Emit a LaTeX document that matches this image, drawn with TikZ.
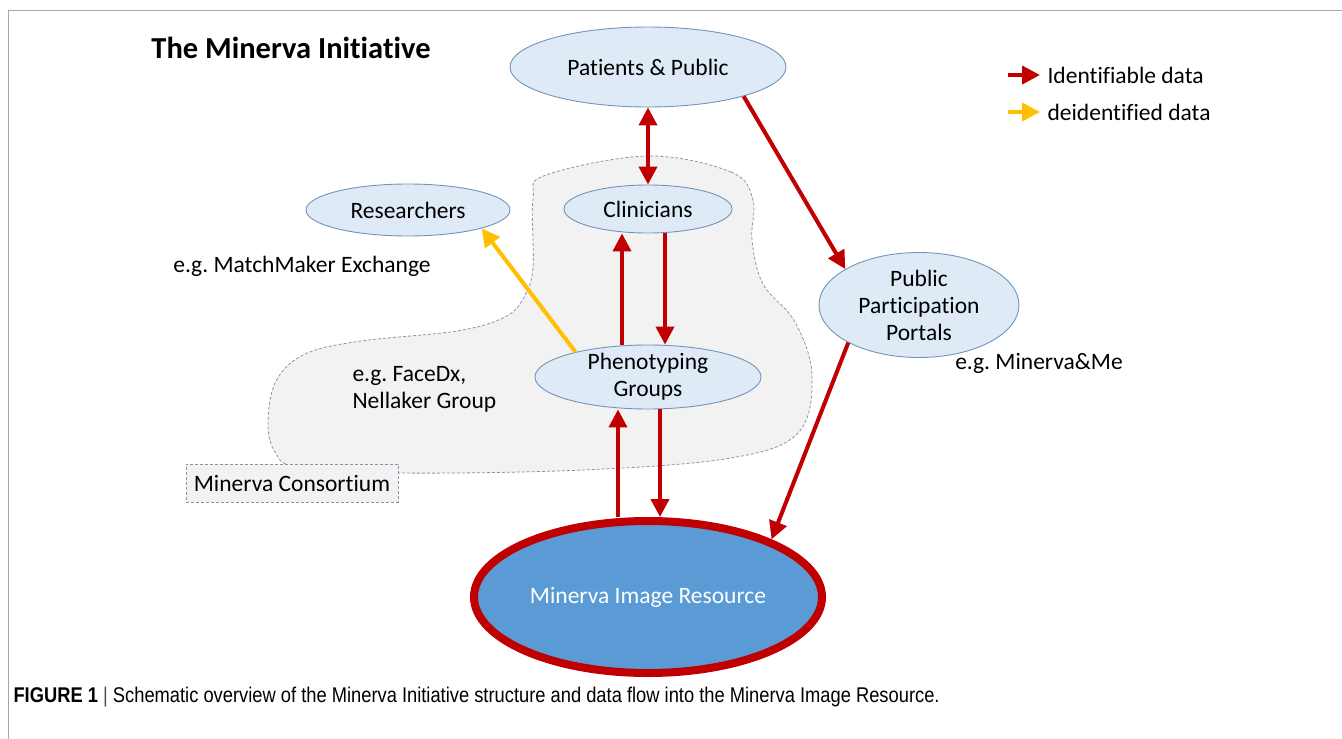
\documentclass[tikz,border=0pt]{standalone}
\usepackage{fontspec}
\setmainfont{Carlito}[Ligatures=NoCommon]
\newfontfamily\capfont{Liberation Sans}
\usetikzlibrary{
  shapes.geometric,  % ellipse
  arrows.meta,
  positioning,
}
\definecolor{idred}{HTML}{C00000}
\definecolor{deidyellow}{HTML}{FFC000}
\definecolor{bubblefill}{HTML}{DEEBF7}
\definecolor{bubbleline}{HTML}{7393BA}
\definecolor{resfill}{HTML}{5B9BD5}
\definecolor{cloudfill}{HTML}{F2F2F2}
\definecolor{cloudline}{HTML}{8497B0}
\definecolor{framegrey}{HTML}{A6A6A6}
\def\mytip{Triangle[length=18pt,width=18pt]}
\tikzset{
  every node/.style={
    font=\fontsize{23.5}{27}\selectfont
  },
  my bubble/.style={
    ellipse,
    draw=bubbleline,
    fill=bubblefill,
    line width=0.9pt,
    inner sep=0pt,
    align=center
  },
  my resource/.style={
    ellipse,
    draw=idred,
    fill=resfill,
    line width=8pt,
    text=white,
    minimum width=348pt,
    minimum height=152pt
  },
  my cloud/.style={
    draw=cloudline,
    fill=cloudfill,
    line width=0.8pt,
    dash pattern=on 3pt off 2pt
  },
  id arrow/.style={
    draw=idred,
    line width=4pt,
    -{\mytip}
  },
  deid arrow/.style={
    draw=deidyellow,
    line width=4pt,
    -{\mytip}
  }
}
\frenchspacing

\begin{document}
\begin{tikzpicture}[x=1pt,y=-1pt]
\useasboundingbox (0,0) rectangle (1342,739);
\draw[framegrey,line width=1pt] (1342,10) -- (8,10) -- (8,739);
% consortium outline
\draw[my cloud] plot[smooth cycle,tension=0.6] coordinates {
  (648,156) (731,172) (753,200) (752,240) (763,284) (795,322) (812,375)
  (798,433) (731,458) (583,470) (398,473) (298,467) (275,452) (268,423)
  (276,381) (305,354) (361,341) (457,331) (505,317) (524,297) (533,267)
  (533,199) (546,175)};
\node[font=\fontsize{30.5}{34}\selectfont\bfseries] (title) at (291,48) {The Minerva Initiative};
\node[my bubble,minimum width=276pt,minimum height=80pt]  (pat)  at (648,67)  {Patients \& Public};
\node[my bubble,minimum width=204pt,minimum height=52pt]  (rsch) at (408,210) {Researchers};
\node[my bubble,minimum width=168pt,minimum height=48pt]  (clin) at (648,209) {Clinicians};
\node[my bubble,minimum width=200pt,minimum height=105pt,inner sep=-5pt] (ppp) at (919,305) {Public\\Participation\\Portals};
\node[my bubble,minimum width=226pt,minimum height=64pt,inner sep=-5pt]  (pheno) at (648,377) {Phenotyping\\Groups};
\node[my resource] (mir) at (648,597) {Minerva Image Resource};
\node (mme) at (302,266) {e.g. MatchMaker Exchange};
\node[align=left,anchor=west] (fdx) at (349,389) {e.g. FaceDx,\\Nellaker Group};
\node (mme2) at (1039,363) {e.g. Minerva\&Me};
\node[my cloud,minimum width=212pt,minimum height=38pt] (cons) at (292,483) {Minerva Consortium};
% legend
\node[anchor=west] (lid)   at (1044,75)  {Identifiable data};
\node[anchor=west] (ldeid) at (1044,112) {deidentified data};
\draw[id arrow]   ([xshift=-36pt]lid.west)   -- ([xshift=-4pt]lid.west);
\draw[deid arrow] ([xshift=-36pt]ldeid.west) -- ([xshift=-4pt]ldeid.west);
% data flow
\draw[id arrow,{\mytip}-{\mytip}] (pat.south) -- (clin.north);
\draw[id arrow] (pat.-17) -- (ppp.154);
\draw[id arrow] ([xshift=-26pt]pheno.north) -- ([xshift=-26pt]clin.south);
\draw[id arrow] ([xshift=17pt]clin.south) -- ([xshift=17pt]pheno.north);
\draw[id arrow] ([xshift=-30pt]mir.north) -- ([xshift=-30pt]pheno.south);
\draw[id arrow] ([xshift=12pt]pheno.south) -- ([xshift=12pt]mir.north);
\draw[id arrow] (ppp.208) -- (mir.25);
\draw[deid arrow] (pheno.161) -- (rsch.-14);
% caption
\node[anchor=west,font=\capfont\fontsize{21.3}{24}\selectfont] (cap) at (10,697)
  {\scalebox{0.86}[1]{\textbf{FIGURE 1} \textcolor{black!70}{|} Schematic overview of the Minerva Initiative structure and data flow into the Minerva Image Resource.}};
\end{tikzpicture}
\end{document}
